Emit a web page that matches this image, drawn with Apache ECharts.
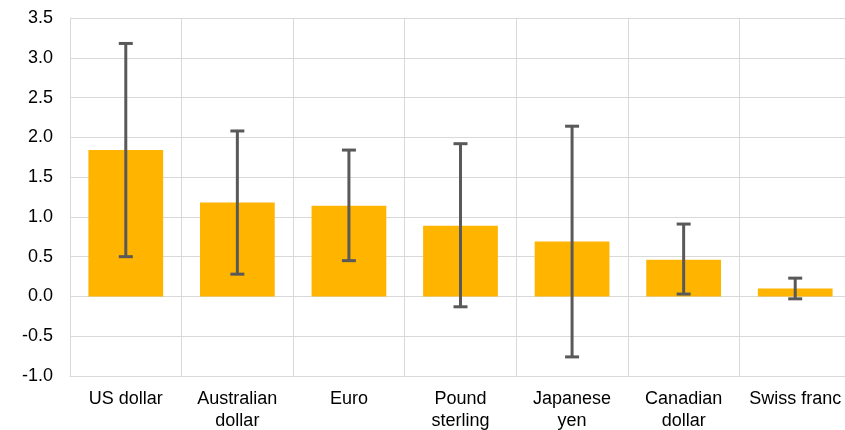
<!DOCTYPE html>
<html><head><meta charset="utf-8">
<script src="https://cdn.jsdelivr.net/npm/echarts@6/dist/echarts.min.js"></script>
<style>html,body{margin:0;padding:0;background:#fff}#c{width:845px;height:430px}</style>
</head><body><div id="c"></div>
<script>
const categories = ['US dollar', 'Australian\ndollar', 'Euro', 'Pound\nsterling', 'Japanese\nyen', 'Canadian\ndollar', 'Swiss franc'];
const values = [1.84, 1.18, 1.14, 0.89, 0.69, 0.46, 0.10];
const errLow = [0.50, 0.28, 0.45, -0.13, -0.76, 0.03, -0.03];
const errHigh = [3.18, 2.08, 1.84, 1.92, 2.14, 0.91, 0.23];
const yTicks = [-1.0, -0.5, 0.0, 0.5, 1.0, 1.5, 2.0, 2.5, 3.0, 3.5];

const chart = echarts.init(document.getElementById('c'), null, {renderer: 'canvas'});
const errData = categories.map((c, i) => [i, errLow[i], errHigh[i]]);
chart.setOption({
  animation: false,
  grid: {left: 70, top: 18, width: 781, height: 358, containLabel: false, outerBoundsMode: 'none'},
  xAxis: {
    type: 'category', data: categories,
    axisLine: {show: true, onZero: false, lineStyle: {color: '#d9d9d9', width: 1}},
    axisTick: {show: false},
    splitLine: {show: true, lineStyle: {color: '#d9d9d9', width: 1}},
    axisLabel: {color: '#000', fontFamily: 'Liberation Sans, Arial', fontSize: 18, margin: 12, lineHeight: 22, interval: 0, hideOverlap: false}
  },
  yAxis: {
    type: 'value', min: -1, max: 3.5, interval: 0.5,
    axisLine: {show: true, lineStyle: {color: '#d9d9d9'}},
    axisTick: {show: false},
    splitLine: {lineStyle: {color: '#d9d9d9', width: 1}},
    axisLabel: {color: '#000', fontFamily: 'Liberation Sans, Arial', fontSize: 18, margin: 17,
      formatter: v => v.toFixed(1)}
  },
  series: [
    {type: 'bar', data: values, barCategoryGap: '33%', itemStyle: {color: '#FFB400'}, z: 2},
    {type: 'custom', data: errData, z: 3,
      renderItem: function (params, api) {
        const x = api.value(0);
        const lo = api.coord([x, api.value(1)]);
        const hi = api.coord([x, api.value(2)]);
        const hw = 7;
        const st = {stroke: '#595959', lineWidth: 3};
        return {type: 'group', children: [
          {type: 'line', shape: {x1: lo[0], y1: lo[1], x2: hi[0], y2: hi[1]}, style: st},
          {type: 'line', shape: {x1: lo[0] - hw, y1: lo[1], x2: lo[0] + hw, y2: lo[1]}, style: st},
          {type: 'line', shape: {x1: hi[0] - hw, y1: hi[1], x2: hi[0] + hw, y2: hi[1]}, style: st}
        ]};
      }
    }
  ]
});
</script></body></html>
